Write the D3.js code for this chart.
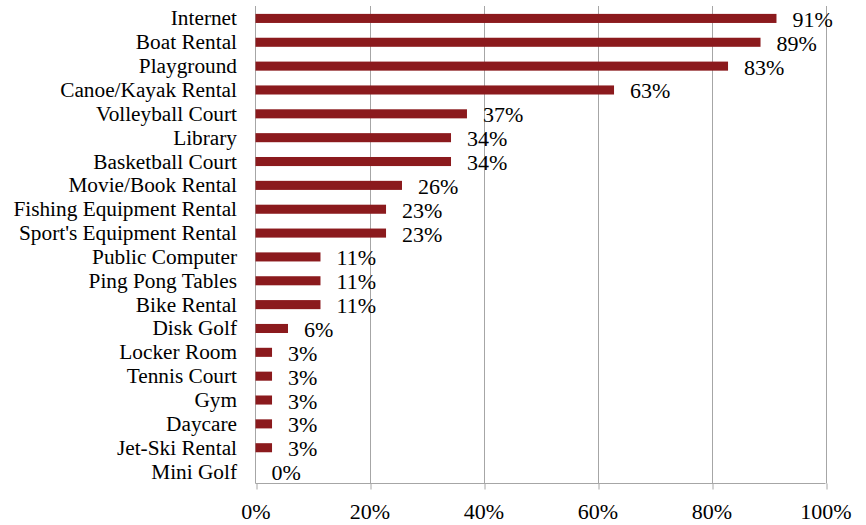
<!DOCTYPE html>
<html>
<head>
<meta charset="utf-8">
<script src="https://cdn.jsdelivr.net/npm/d3@7"></script>
<style>
  html, body { margin: 0; padding: 0; background: #fff; }
  svg { display: block; }
</style>
</head>
<body>
<svg id="chart" width="866" height="525"></svg>
<script>
const categories = ["Internet", "Boat Rental", "Playground", "Canoe/Kayak Rental", "Volleyball Court",
  "Library", "Basketball Court", "Movie/Book Rental", "Fishing Equipment Rental", "Sport's Equipment Rental",
  "Public Computer", "Ping Pong Tables", "Bike Rental", "Disk Golf", "Locker Room",
  "Tennis Court", "Gym", "Daycare", "Jet-Ski Rental", "Mini Golf"];
const values = [91.4, 88.6, 82.9, 62.9, 37.1, 34.3, 34.3, 25.7, 22.9, 22.9,
  11.4, 11.4, 11.4, 5.7, 2.9, 2.9, 2.9, 2.9, 2.9, 0];
const tickValues = [0, 20, 40, 60, 80, 100];

const FONT = "'Liberation Serif', 'Times New Roman', serif";

const svg = d3.select("#chart");
const pLeft = 255.5, pRight = 825.5, pTop = 6, pBottom = 483.5;

const x = d3.scaleLinear().domain([0, 100]).range([pLeft, pRight]);
const y = d3.scaleBand().domain(categories).range([pTop + 0.5, pBottom])
  .paddingInner(0.62).paddingOuter(0.31);

// gridlines
svg.append("g").selectAll("line").data(tickValues.slice(1)).join("line")
  .attr("x1", d => Math.round(x(d)) + 0.5).attr("x2", d => Math.round(x(d)) + 0.5)
  .attr("y1", pTop).attr("y2", pBottom)
  .attr("stroke", "#a6a6a6").attr("stroke-width", 1);

// x axis
const xAxis = d3.axisBottom(x).tickValues(tickValues).tickFormat(d => d + "%")
  .tickSize(6).tickPadding(10);
const gx = svg.append("g").attr("transform", `translate(0,${Math.floor(pBottom) + 0.5})`).call(xAxis)
  .attr("font-family", FONT);
gx.select(".domain").attr("stroke", "#a6a6a6").attr("d", `M${pLeft},0H${pRight}`);
gx.selectAll(".tick line").attr("stroke", "#a6a6a6")
  .attr("transform", d => `translate(${Math.round(x(d)) + 0.5 - x(d)},0)`);
gx.selectAll(".tick text").attr("font-size", "22px")
  .attr("font-family", FONT).attr("fill", "#000")
  .attr("dy", "0").attr("y", 35);

// y axis line
svg.append("line").attr("x1", Math.floor(pLeft) + 0.5).attr("x2", Math.floor(pLeft) + 0.5)
  .attr("y1", pTop).attr("y2", pBottom).attr("stroke", "#a6a6a6");

// bars
svg.append("g").selectAll("rect").data(values).join("rect")
  .attr("x", x(0))
  .attr("y", (d, i) => y(categories[i]))
  .attr("width", d => x(d) - x(0))
  .attr("height", y.bandwidth())
  .attr("fill", "#8b1a1d");

// category labels
svg.append("g").attr("font-family", FONT).selectAll("text").data(categories).join("text")
  .attr("x", 237)
  .attr("y", d => y(d) + y.bandwidth() / 2 + 7)
  .attr("text-anchor", "end")
  .attr("font-size", "21.3px")
  .attr("fill", "#000")
  .text(d => d);

// data labels
svg.append("g").attr("font-family", FONT).selectAll("text").data(values).join("text")
  .attr("x", d => x(d) + 16)
  .attr("y", (d, i) => y(categories[i]) + y.bandwidth() / 2 + 8.5)
  .attr("font-size", "22px")
  .attr("fill", "#000")
  .text(d => Math.round(d) + "%");
</script>
</body>
</html>
